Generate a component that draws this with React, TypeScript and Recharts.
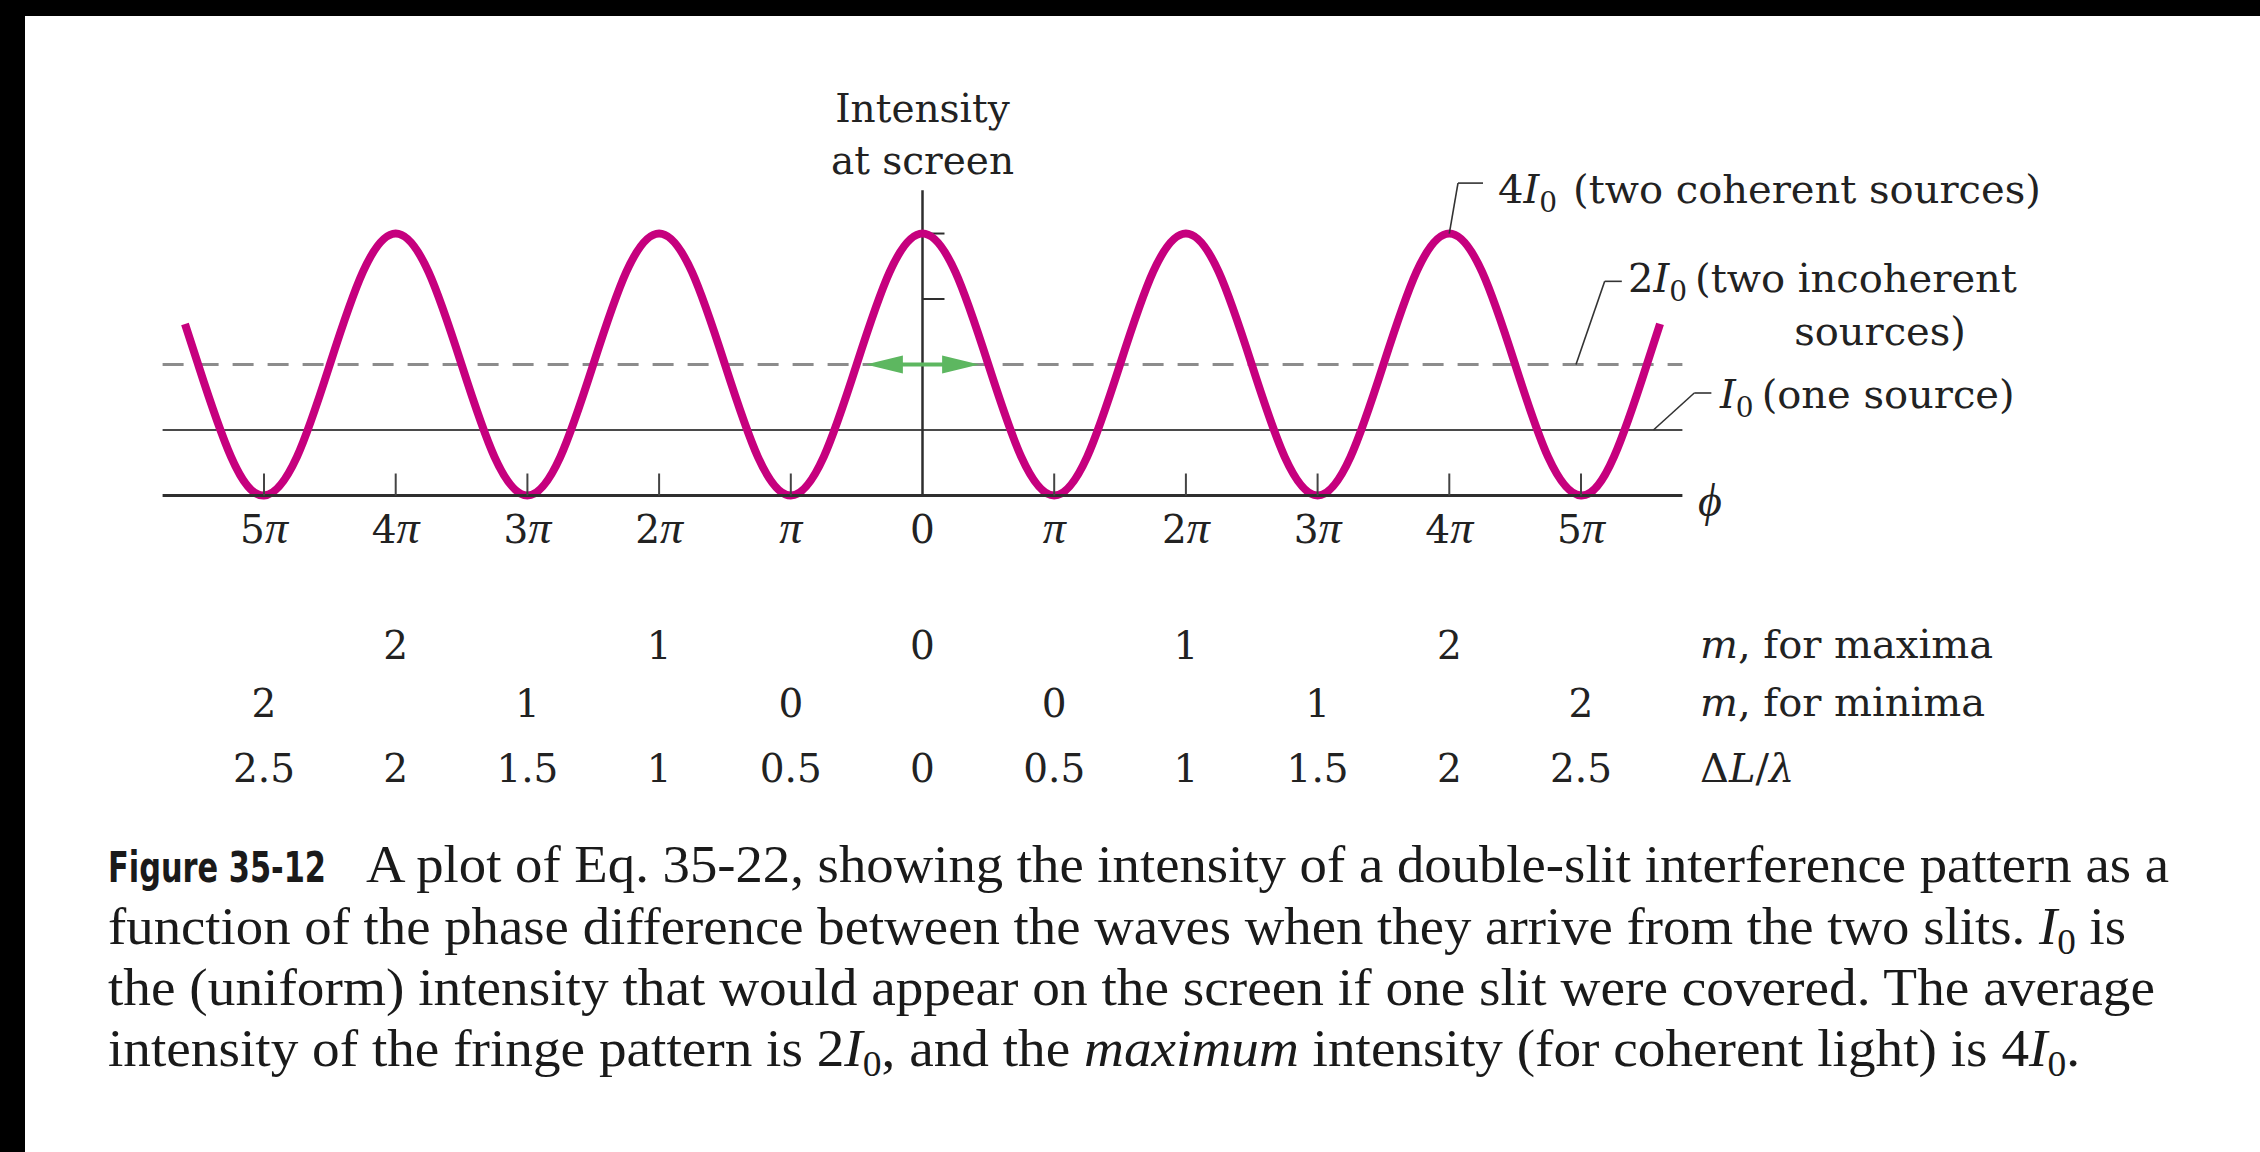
import React from "react";
import { ComposedChart, Line, XAxis, YAxis, ReferenceLine } from "recharts";

// phase difference in units of π, intensity in units of I0
const PHASE = [
  -5.6,
  -5.5, -5.25, -5, -4.75, -4.5, -4.25, -4, -3.75,
  -3.5, -3.25, -3, -2.75, -2.5, -2.25, -2, -1.75,
  -1.5, -1.25, -1, -0.75, -0.5, -0.25, 0, 0.25,
  0.5, 0.75, 1, 1.25, 1.5, 1.75, 2, 2.25,
  2.5, 2.75, 3, 3.25, 3.5, 3.75, 4, 4.25,
  4.5, 4.75, 5, 5.25, 5.5,
  5.6,
];
const INTENSITY = [
  2.62,
  2, 0.59, 0, 0.59, 2, 3.41, 4, 3.41,
  2, 0.59, 0, 0.59, 2, 3.41, 4, 3.41,
  2, 0.59, 0, 0.59, 2, 3.41, 4, 3.41,
  2, 0.59, 0, 0.59, 2, 3.41, 4, 3.41,
  2, 0.59, 0, 0.59, 2, 3.41, 4, 3.41,
  2, 0.59, 0, 0.59, 2,
  2.62,
];

const PHASE_TICKS = [-5, -4, -3, -2, -1, 0, 1, 2, 3, 4, 5];
const PHASE_LABELS = ["5π", "4π", "3π", "2π", "π", "0", "π", "2π", "3π", "4π", "5π"];
const M_MAXIMA = ["", "2", "", "1", "", "0", "", "1", "", "2", ""];
const M_MINIMA = ["2", "", "1", "", "0", "", "0", "", "1", "", "2"];
const PATH_RATIO = ["2.5", "2", "1.5", "1", "0.5", "0", "0.5", "1", "1.5", "2", "2.5"];

const ONE_SOURCE = 1;
const INCOHERENT = 2;
const COHERENT = 4;
const Y_TICKS = [3, 4];

const MAGENTA = "#C6007E";
const GREEN = "#5DB760";
const INK = "#222";
const SERIF = '"DejaVu Serif", serif';
const MATH = '"Liberation Serif", "Times New Roman", serif';
const CAPTION = '"Liberation Serif", "Times New Roman", serif';
const CONDENSED = '"Liberation Sans Narrow", "DejaVu Sans Condensed", "Liberation Sans", sans-serif';

const data = PHASE.map((phi, i) => ({ phi, intensity: INTENSITY[i] }));

const PhaseTick = (props: any) => {
  const { x, y, payload } = props;
  const i = PHASE_TICKS.indexOf(payload.value);
  const label = PHASE_LABELS[i];
  const num = label.replace("π", "");
  const t = { fontFamily: SERIF, fontSize: 39, fill: INK } as const;
  return (
    <g>
      {payload.value !== 0 && (
        <line x1={x} y1={y} x2={x} y2={y - 22} stroke="#444" strokeWidth={2} />
      )}
      <text x={x} y={y + 47} textAnchor="middle" {...t}>
        {num}
        {label.includes("π") && (
          <tspan fontFamily={MATH} fontStyle="italic" fontSize={46}>π</tspan>
        )}
      </text>
      {M_MAXIMA[i] && (
        <text x={x} y={y + 163} textAnchor="middle" {...t}>{M_MAXIMA[i]}</text>
      )}
      {M_MINIMA[i] && (
        <text x={x} y={y + 221} textAnchor="middle" {...t}>{M_MINIMA[i]}</text>
      )}
      <text x={x} y={y + 286} textAnchor="middle" {...t}>{PATH_RATIO[i]}</text>
    </g>
  );
};

const DoubleArrow = (p: any) => {
  const { x1, y1, x2 } = p;
  const head = 37;
  const half = 9;
  return (
    <g>
      <line x1={x1 + head - 2} y1={y1} x2={x2 - head + 2} y2={y1} stroke={GREEN} strokeWidth={4} />
      <polygon points={`${x1},${y1} ${x1 + head},${y1 - half} ${x1 + head},${y1 + half}`} fill={GREEN} />
      <polygon points={`${x2},${y1} ${x2 - head},${y1 - half} ${x2 - head},${y1 + half}`} fill={GREEN} />
    </g>
  );
};

// italic I with a lowered subscript; the tspan after it lifts the baseline back
const ISub = ({ n, size, drop }: { n: string; size: number; drop: number }) => (
  <>
    <tspan fontStyle="italic">I</tspan>
    <tspan fontSize={size} dy={drop}>{n}</tspan>
  </>
);

const leader = { stroke: "#333", strokeWidth: 1.6, ifOverflow: "visible" as const };

const App = () => {
  const note = { fontFamily: SERIF, fontSize: 40, fill: INK };
  return (
    <div style={{ position: "absolute", left: 0, top: 0, width: 2260, height: 1152, background: "#fff" }}>
      <ComposedChart
        width={2260}
        height={1152}
        data={data}
        margin={{ top: 190.3, right: 577.6, bottom: 626.5, left: 162.6 }}
      >
        <XAxis
          dataKey="phi"
          type="number"
          domain={[-5.77, 5.77]}
          ticks={PHASE_TICKS}
          interval={0}
          height={30}
          axisLine={{ stroke: "#2e2e2e", strokeWidth: 3 }}
          tickLine={false}
          tickSize={0}
          tickMargin={0}
          tick={(p: any) => <PhaseTick {...p} />}
        />
        <YAxis hide type="number" domain={[0, 4.66]} />
        <ReferenceLine y={ONE_SOURCE} stroke="#4a4a4a" strokeWidth={2} />
        <ReferenceLine y={INCOHERENT} stroke="#8c8c8c" strokeWidth={3} strokeDasharray="21 14" />
        <ReferenceLine x={0} stroke="#2e2e2e" strokeWidth={2.5} />
        {Y_TICKS.map((v) => (
          <ReferenceLine key={v} segment={[{ x: 0, y: v }, { x: 0.167, y: v }]} stroke="#2e2e2e" strokeWidth={2} />
        ))}
        <Line
          type="natural"
          dataKey="intensity"
          stroke={MAGENTA}
          strokeWidth={8}
          dot={false}
          activeDot={false}
          isAnimationActive={false}
        />
        <ReferenceLine
          segment={[{ x: -0.43, y: INCOHERENT }, { x: 0.43, y: INCOHERENT }]}
          shape={DoubleArrow}
        />
        {/* leaders to the three level labels */}
        <ReferenceLine segment={[{ x: 4, y: COHERENT }, { x: 4.066, y: 4.77 }]} {...leader} />
        <ReferenceLine segment={[{ x: 4.066, y: 4.77 }, { x: 4.256, y: 4.77 }]} {...leader} />
        <ReferenceLine segment={[{ x: 4.962, y: INCOHERENT }, { x: 5.18, y: 3.27 }]} {...leader} />
        <ReferenceLine segment={[{ x: 5.18, y: 3.27 }, { x: 5.31, y: 3.27 }]} {...leader} />
        <ReferenceLine segment={[{ x: 5.55, y: ONE_SOURCE }, { x: 5.86, y: 1.565 }]} {...leader} />
        <ReferenceLine segment={[{ x: 5.86, y: 1.565 }, { x: 5.99, y: 1.565 }]} {...leader} />
      </ComposedChart>

      <svg
        width={2260}
        height={1152}
        style={{ position: "absolute", left: 0, top: 0, pointerEvents: "none" }}
      >
        <g {...note} fontSize={39} textAnchor="middle">
          <text x={922.5} y={122}>Intensity</text>
          <text x={922.5} y={174}>at screen</text>
        </g>

        <g {...note}>
          <text x={1498} y={203}>
            4<ISub n="0" size={28} drop={9} />
            <tspan dx={16} dy={-9}>(two coherent sources)</tspan>
          </text>
          <text x={1628} y={292}>
            2<ISub n="0" size={28} drop={9} />
            <tspan dx={8} dy={-9}>(two incoherent</tspan>
          </text>
          <text x={1880} y={345} textAnchor="middle">sources)</text>
          <text x={1720} y={408}>
            <ISub n="0" size={28} drop={9} />
            <tspan dx={8} dy={-9}>(one source)</tspan>
          </text>
          <text x={1710} y={516} textAnchor="middle" fontFamily={MATH} fontStyle="italic" fontSize={46}>
            ϕ
          </text>

          <text x={1700} y={658}>
            <tspan fontStyle="italic">m</tspan>, for maxima
          </text>
          <text x={1700} y={716}>
            <tspan fontStyle="italic">m</tspan>, for minima
          </text>
          <text x={1700} y={782}>
            Δ<tspan fontStyle="italic">L</tspan>/<tspan fontStyle="italic">λ</tspan>
          </text>
        </g>

        <g fontFamily={CAPTION} fontSize={53} fill="#1a1a1a">
          <text
            x={108}
            y={882}
            fontFamily={CONDENSED}
            fontWeight="bold"
            fontSize={43}
            textLength={218}
            lengthAdjust="spacingAndGlyphs"
          >
            Figure 35-12
          </text>
          <text x={366} y={882} textLength={1803} lengthAdjust="spacingAndGlyphs">
            A plot of Eq. 35-22, showing the intensity of a double-slit interference pattern as a
          </text>
          <text x={108} y={944} textLength={2018} lengthAdjust="spacingAndGlyphs">
            function of the phase difference between the waves when they arrive from the two slits.{" "}
            <ISub n="0" size={36} drop={10} />
            <tspan dy={-10}> is</tspan>
          </text>
          <text x={108} y={1005} textLength={2047} lengthAdjust="spacingAndGlyphs">
            the (uniform) intensity that would appear on the screen if one slit were covered. The average
          </text>
          <text x={108} y={1066} textLength={1972} lengthAdjust="spacingAndGlyphs">
            intensity of the fringe pattern is 2<ISub n="0" size={36} drop={10} />
            <tspan dy={-10}>, and the </tspan>
            <tspan fontStyle="italic">maximum</tspan>
            <tspan> intensity (for coherent light) is 4</tspan>
            <ISub n="0" size={36} drop={10} />
            <tspan dy={-10}>.</tspan>
          </text>
        </g>
      </svg>

      <div style={{ position: "absolute", left: 0, top: 0, width: 2260, height: 16, background: "#000" }} />
      <div style={{ position: "absolute", left: 0, top: 0, width: 25, height: 1152, background: "#000" }} />
    </div>
  );
};

export default App;
